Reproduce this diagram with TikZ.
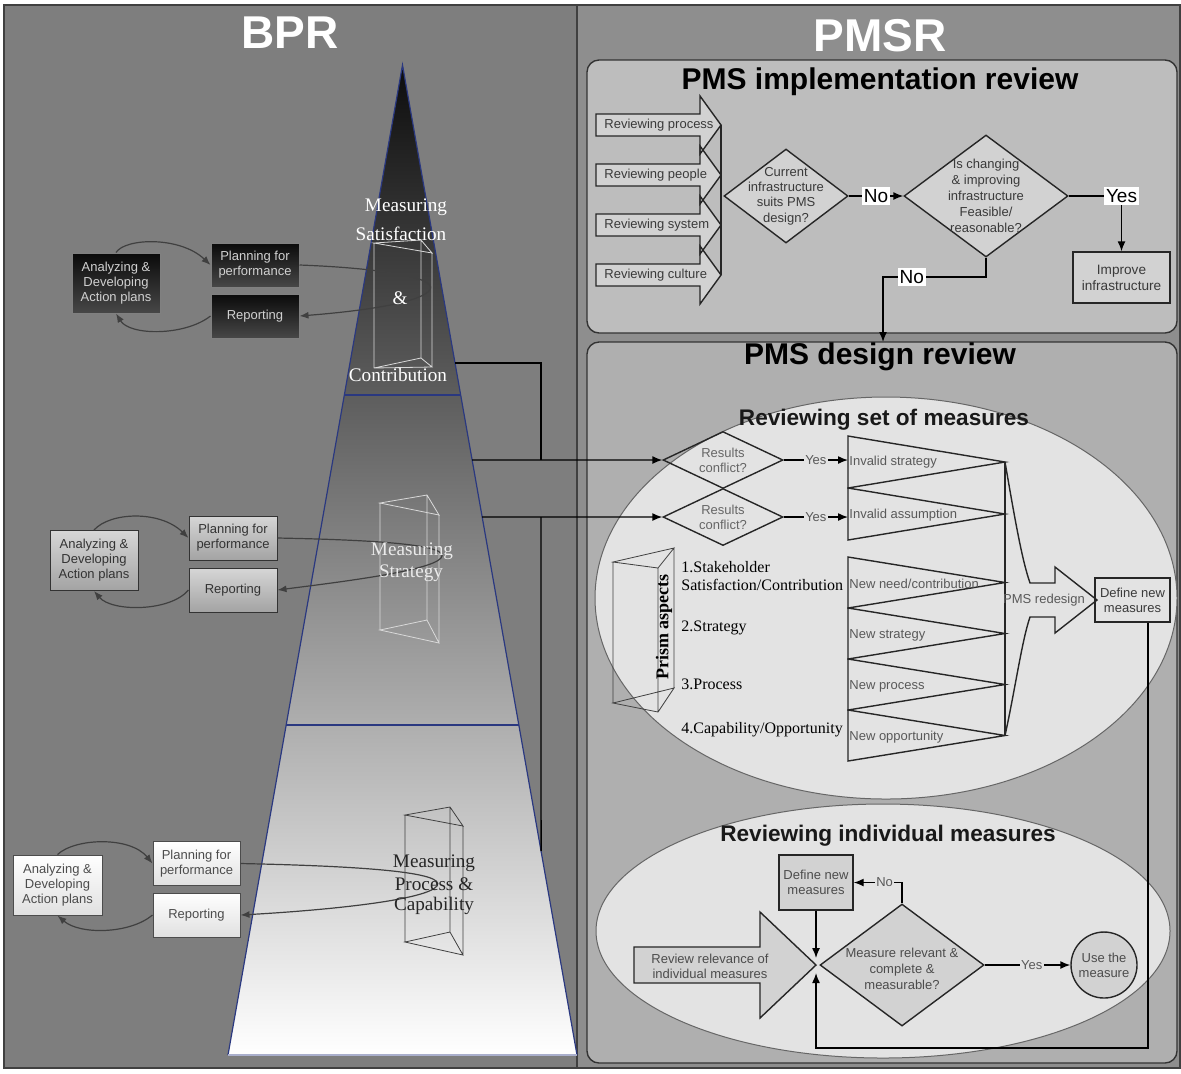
\documentclass[tikz,border=0pt]{standalone}
\usepackage{fontspec}
\setmainfont{Liberation Sans}
\newfontfamily\serifface{Liberation Serif}
\usetikzlibrary{arrows.meta,shapes.geometric,calc}

\definecolor{bprbg}{HTML}{7E7E7E}
\definecolor{pmsrbg}{HTML}{8E8E8E}
\definecolor{implbg}{HTML}{BDBDBD}
\definecolor{designbg}{HTML}{AFAFAF}
\definecolor{ellbg}{HTML}{E3E3E3}
\definecolor{shapebg}{HTML}{D2D2D2}
\definecolor{pyrline}{HTML}{2A3880}
\definecolor{inktxt}{HTML}{3A3A3A}

\tikzset{
  smalltxt/.style={font=\fontsize{6.5}{7.6}\selectfont, align=center, text=inktxt, inner sep=0pt},
  tritxt/.style={font=\fontsize{6.5}{7.6}\selectfont, text=black!65, inner sep=0pt},
  bigtitle/.style={font=\fontsize{23}{26}\selectfont\bfseries, text=white},
  boxtitle/.style={font=\fontsize{15}{18}\selectfont\bfseries, text=black},
  elltitle/.style={font=\fontsize{11.3}{13}\selectfont\bfseries, text=black!90},
  pyrtxt/.style={font=\serifface\fontsize{9.6}{11}\selectfont, inner sep=0pt},
  listtxt/.style={font=\serifface\fontsize{8}{9}\selectfont, inner sep=0pt, anchor=west, text=black},
  conn/.style={line width=0.7pt, draw=black, -{Latex[length=5pt,width=4pt]}},
  plain/.style={line width=0.7pt, draw=black},
  bigl/.style={fill=white, inner sep=1pt, font=\fontsize{9.5}{11}\selectfont, text=black},
  smalll/.style={fill=ellbg, inner sep=0.6pt, font=\fontsize{6.5}{7.5}\selectfont, text=black!65},
  outl/.style={draw=black!85, line width=0.7pt},
  lbox/.style={rectangle, minimum width=44pt, minimum height=22pt, inner sep=1pt, align=center,
               font=\fontsize{6.5}{7.5}\selectfont, line width=0.5pt},
  tallbox/.style={minimum height=30pt},
  loopA/.style={lbox, draw=black!50, top color=black!96, bottom color=black!72, text=black!18},
  loopB/.style={lbox, draw=black!80, top color=black!16, bottom color=black!36, text=black!80},
  loopC/.style={lbox, draw=black!70, top color=white, bottom color=black!12, text=black!70},
  cyc/.style={draw=black!75, line width=0.6pt, -{Latex[length=4.5pt,width=3.5pt]}},
  prismw/.style={draw=white!85!black, line width=0.4pt},
  prismd/.style={draw=black!75, line width=0.4pt},
}

\begin{document}
\begin{tikzpicture}[x=0.5pt,y=-0.5pt]
\useasboundingbox (0,0) rectangle (1181,1073);
\fill[white] (0,0) rectangle (1181,1073);

% ---------- panels ----------
\fill[bprbg] (4,5) rectangle (577,1068);
\fill[pmsrbg] (577,5) rectangle (1180,1068);
\draw[black!75, line width=0.8pt] (4,5) rectangle (1180,1068);
\draw[black!75, line width=0.8pt] (577,5) -- (577,1068);
\node[bigtitle] (bprtitle) at (290,33) {BPR};
\node[bigtitle] (pmsrtitle) at (880,36) {PMSR};

% ---------- pyramid ----------
\coordinate (apex) at (402.5,65);
\coordinate (bl) at (228,1055);
\coordinate (br) at (577,1055);
\shade[top color=black!95, bottom color=white] (apex) -- (br) -- (bl) -- cycle;
\draw[pyrline, line width=0.6pt] (bl) -- (apex) -- (br);
\draw[pyrline!40, line width=0.6pt] (bl) -- (br);
\draw[pyrline, line width=0.8pt] ($(apex)!1/3!(bl)$) -- ($(apex)!1/3!(br)$);
\draw[pyrline, line width=0.8pt] ($(apex)!2/3!(bl)$) -- ($(apex)!2/3!(br)$);

% prisms inside the pyramid
\draw[prismw] (374,243) -- (421,240) -- (432,253) -- cycle
  (374,243) -- (374,368) (421,240) -- (421,358) (432,253) -- (432,367)
  (374,368) -- (421,358) -- (432,367) -- cycle;
\draw[prismw] (380,503) -- (427,495) -- (439,515) -- cycle
  (380,503) -- (380,630) (427,495) -- (427,620) (439,515) -- (439,643)
  (380,630) -- (427,620) -- (439,643) -- cycle;
\draw[prismd] (405,815) -- (450,807) -- (463,826) -- cycle
  (405,815) -- (405,942) (450,807) -- (450,932) (463,826) -- (463,955)
  (405,942) -- (450,932) -- (463,955) -- cycle;

% ---------- BPR loops ----------
\node[loopA, tallbox] (a1) at (116,283) {Analyzing \&\\Developing\\Action plans};
\node[loopA] (p1) at (255,265) {Planning for\\performance};
\node[loopA] (r1) at (255,316) {Reporting};
\draw[cyc] (a1.north) .. controls (125,238) and (180,236) .. (p1.west);
\draw[cyc] (p1.east) .. controls (380,268) and (445,278) .. (428,292)
                     .. controls (412,305) and (350,312) .. (r1.east);
\draw[cyc] (r1.west) .. controls (185,336) and (130,336) .. (a1.south);

\node[loopB, tallbox] (a2) at (94,560.5) {Analyzing \&\\Developing\\Action plans};
\node[loopB] (p2) at (233,538) {Planning for\\performance};
\node[loopB] (r2) at (233,590) {Reporting};
\draw[cyc] (a2.north) .. controls (110,512) and (160,510) .. (p2.west);
\draw[cyc] (p2.east) .. controls (380,540) and (452,545) .. (441,558)
                     .. controls (430,571) and (340,582) .. (r2.east);
\draw[cyc] (r2.west) .. controls (170,612) and (112,612) .. (a2.south);

\node[loopC, tallbox, minimum width=44.5pt] (a3) at (57.5,885) {Analyzing \&\\Developing\\Action plans};
\node[loopC, minimum width=43.5pt] (p3) at (196.5,863.5) {Planning for\\performance};
\node[loopC, minimum width=43.5pt] (r3) at (196.5,915) {Reporting};
\draw[cyc] (a3.north) .. controls (75,838) and (130,836) .. (p3.west);
\draw[cyc] (p3.east) .. controls (360,866) and (447,872) .. (437,886)
                     .. controls (426,900) and (330,910) .. (r3.east);
\draw[cyc] (r3.west) .. controls (130,934) and (80,935) .. (a3.south);

% pyramid labels
\node[pyrtxt, text=white] (ps1) at (406,207) {Measuring};
\node[pyrtxt, text=white] (ps2) at (401,234) {Satisfaction};
\node[pyrtxt, text=white] (ps3) at (400,298) {\&};
\node[pyrtxt, text=white] (ps4) at (398,375) {Contribution};
\node[pyrtxt, text=white!92!black] (pm1) at (412,551) {Measuring};
\node[pyrtxt, text=white!92!black] (pm2) at (411,573) {Strategy};
\node[pyrtxt, text=black!85] (pb1) at (434,863) {Measuring};
\node[pyrtxt, text=black!85] (pb2) at (434,884) {Process \&};
\node[pyrtxt, text=black!85] (pb3) at (434,906) {Capability};

% ---------- PMS implementation review ----------
\draw[rounded corners=6pt, fill=implbg, draw=black!80, line width=0.7pt] (587,60) rectangle (1177,333);
\node[boxtitle] (impltitle) at (880,82) {PMS implementation review};

\foreach \cy in {125,175,225,275}
  \fill[shapebg] (596,\cy-11) -- (700,\cy-11) -- (700,\cy-29) -- (721,\cy)
                 -- (700,\cy+29) -- (700,\cy+11) -- (596,\cy+11) -- cycle;
\foreach \cy in {125,175,225,275}
  \draw[outl, line join=miter] (596,\cy-11) -- (700,\cy-11) -- (700,\cy-29) -- (721,\cy)
                 -- (700,\cy+29) -- (700,\cy+11) -- (596,\cy+11) -- cycle;
\draw[outl] (721,125) -- (721,275);
\foreach \cy/\lab [count=\i] in {125/Reviewing process,175/Reviewing people,225/Reviewing system,275/Reviewing culture}
  \node[smalltxt, anchor=west] (rv\i) at (604,\cy) {\lab};

\node[diamond, outl, fill=shapebg, minimum width=62pt, minimum height=47pt, inner sep=0pt] (cur) at (786,196) {};
\node[smalltxt] (curtxt) at (cur.center) {Current\\infrastructure\\suits PMS\\design?};
\node[diamond, outl, fill=shapebg, minimum width=82pt, minimum height=61pt, inner sep=0pt] (feas) at (986,196) {};
\node[smalltxt, font=\fontsize{6.5}{8}\selectfont] (feastxt) at (feas.center) {Is changing\\\& improving\\infrastructure\\Feasible/\\reasonable?};
\node[rectangle, outl, fill=shapebg, minimum width=48.5pt, minimum height=25.5pt, smalltxt, font=\fontsize{6.8}{8}\selectfont] (impr) at (1121.5,277.5) {Improve\\infrastructure};

\draw[conn] (cur.east) -- node[bigl] {No} (feas.west);
\draw[conn] (feas.east) -| node[bigl, pos=0.5] {Yes} (impr.north);
\coordinate (nobend) at (883,277);
\coordinate (dtop) at (883,342);
\draw[conn] (feas.south) |- node[bigl, pos=0.86] {No} (nobend) -- (dtop);

% ---------- PMS design review ----------
\draw[rounded corners=6pt, fill=designbg, draw=black!80, line width=0.7pt] (587,342) rectangle (1177,1063);
\node[boxtitle] (designtitle) at (880,357) {PMS design review};

\draw[fill=ellbg, draw=black!60, line width=0.5pt] (886,598) ellipse [x radius=145.5pt, y radius=100.5pt];
\draw[fill=ellbg, draw=black!60, line width=0.5pt] (883,931) ellipse [x radius=143.5pt, y radius=63.5pt];
\node[elltitle] (settitle) at (884,420) {Reviewing set of measures};
\node[elltitle] (indtitle) at (888,836) {Reviewing individual measures};

% set of measures: conflict checks
\node[diamond, outl, minimum width=60pt, minimum height=28.5pt, inner sep=0pt] (rc1) at (723,460) {};
\node[smalltxt, text=black!60] (rc1txt) at (rc1.center) {Results\\conflict?};
\node[diamond, outl, minimum width=60pt, minimum height=28.5pt, inner sep=0pt] (rc2) at (723,517) {};
\node[smalltxt, text=black!60] (rc2txt) at (rc2.center) {Results\\conflict?};
\coordinate (L1) at (848,460);
\coordinate (L2) at (848,517);
\draw[conn] (rc1.east) -- node[smalll] {Yes} (L1);
\draw[conn] (rc2.east) -- node[smalll] {Yes} (L2);

% funnel triangles
\foreach \ya/\yb in {436/488,488/540,557/608,608/659,659/710,710/761}
  \draw[outl, line join=miter] (848,\ya) -- (1005,{(\ya+\yb)/2}) -- (848,\yb) -- cycle;
\draw[outl] (1005,462) -- (1005,735.5);
\node[tritxt, anchor=west] (ts1) at (849,462) {Invalid strategy};
\node[tritxt, anchor=west] (ts2) at (849,515) {Invalid assumption};
\node[tritxt, anchor=west] (ts3) at (849,584) {New need/contribution};
\node[tritxt, anchor=west] (ts4) at (849,635) {New strategy};
\node[tritxt, anchor=west] (ts5) at (849,686) {New process};
\node[tritxt, anchor=west] (ts6) at (849,737) {New opportunity};

% redesign arrow and new measures
\draw[outl, line join=miter] (1005,462) .. controls (1015,520) and (1022,560) .. (1030,583)
  -- (1055,583) -- (1055,567) -- (1097,600) -- (1055,633) -- (1055,617) -- (1030,617)
  .. controls (1022,640) and (1015,690) .. (1005,735.5);
\node[tritxt] (pmsred) at (1044,600) {PMS redesign};
\node[rectangle, outl, minimum width=37.5pt, minimum height=22pt, smalltxt] (def1) at (1132.5,600) {Define new\\measures};

% prism aspects
\draw[prismd] (613,562) -- (674,548) -- (658,568) -- cycle
  (613,562) -- (613,703) (674,548) -- (674,688) (658,568) -- (658,712)
  (613,703) -- (674,688) -- (658,712) -- cycle;
\node[font=\serifface\bfseries\fontsize{9}{10}\selectfont, rotate=90, inner sep=0pt] (prism) at (664,627) {Prism aspects};
\node[listtxt] (li1a) at (681,567) {1.Stakeholder};
\node[listtxt] (li1b) at (681,585) {Satisfaction/Contribution};
\node[listtxt] (li2) at (681,628) {2.Strategy};
\node[listtxt] (li3) at (681,684) {3.Process};
\node[listtxt] (li4) at (681,730) {4.Capability/Opportunity};

% individual measures
\coordinate (jn) at (816,965);
\fill[shapebg] (634,947) -- (760,947) -- (760,912) -- (jn) -- (760,1018) -- (760,983) -- (634,983) -- cycle;
\draw[outl, line join=miter] (634,947) -- (760,947) -- (760,912) -- (jn) -- (760,1018) -- (760,983) -- (634,983) -- cycle;
\node[smalltxt, text=black!70] (revtxt) at (710,966) {Review relevance of\\individual measures};
\node[diamond, outl, fill=shapebg, minimum width=82pt, minimum height=61pt, inner sep=0pt] (meas) at (902,965) {};
\node[smalltxt, text=black!70, font=\fontsize{6.5}{8}\selectfont] (meastxt) at (902,969) {Measure relevant \&\\complete \&\\measurable?};
\node[rectangle, outl, fill=shapebg, minimum width=37pt, minimum height=27.5pt, smalltxt, text=black!70] (def2) at (816,882.5) {Define new\\measures};
\node[circle, outl, fill=shapebg, minimum size=33pt, inner sep=0pt, smalltxt, text=black!70] (use) at (1104,965) {Use the\\measure};
\draw[conn] (meas.north) |- node[smalll, pos=0.68] {No} (def2.east);
\draw[conn] (meas.east) -- node[smalll, pos=0.55] {Yes} (use.west);
\draw[conn] (def2.south) -- ($(jn)+(0,-7)$);
\coordinate (xl) at (1148,0);
\coordinate (bot) at (816,1048);
\draw[conn] (def1.south -| xl) -- (xl |- bot) -- (bot) -- ($(jn)+(0,8)$);

% ---------- links from the pyramid ----------
\coordinate (e1) at ($(apex)!0.30101!(br)$);
\coordinate (e2) at ($(apex)!0.39899!(br)$);
\coordinate (e3) at ($(apex)!0.45657!(br)$);
\coordinate (e4) at ($(apex)!0.79394!(br)$);
\coordinate (jx) at (541,0);
\draw[plain] (e1) -- (e1 -| jx) -- (jx |- rc1.west);
\draw[conn] (e2) -- (rc1.west);
\draw[conn] (e3) -- (rc2.west);
\draw[plain] (e4) -- (jx |- rc2.west);
\end{tikzpicture}
\end{document}
